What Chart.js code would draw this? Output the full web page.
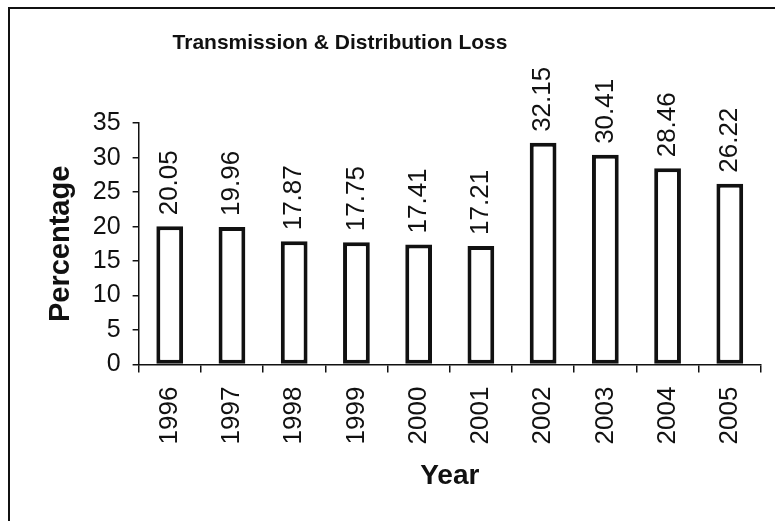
<!DOCTYPE html>
<html>
<head>
<meta charset="utf-8">
<script src="https://cdn.jsdelivr.net/npm/chart.js@4/dist/chart.umd.min.js"></script>
<style>
  html, body { margin: 0; padding: 0; background: #fff; }
  #wrap { position: relative; width: 775px; height: 521px; }
  canvas { display: block; }
</style>
</head>
<body>
<div id="wrap"><canvas id="c" width="775" height="521"></canvas></div>
<script>
const chartTitle = "Transmission & Distribution Loss";
const years = ["1996", "1997", "1998", "1999", "2000", "2001", "2002", "2003", "2004", "2005"];
const lossPercent = [20.05, 19.96, 17.87, 17.75, 17.41, 17.21, 32.15, 30.41, 28.46, 26.22];
const yTicks = [0, 5, 10, 15, 20, 25, 30, 35];
const xAxisTitle = "Year";
const yAxisTitle = "Percentage";

const FONT = "'Liberation Sans', Arial, Helvetica, sans-serif";

const framePlugin = {
  id: 'frame',
  beforeDraw(chart) {
    const ctx = chart.ctx;
    ctx.save();
    ctx.fillStyle = '#fff';
    ctx.fillRect(0, 0, chart.width, chart.height);
    ctx.strokeStyle = '#111';
    ctx.lineWidth = 2;
    ctx.beginPath();
    ctx.moveTo(9, chart.height);
    ctx.lineTo(9, 8);
    ctx.lineTo(chart.width, 8);
    ctx.stroke();
    ctx.restore();
  }
};

const titleShiftPlugin = {
  id: 'titleShift',
  afterLayout(chart) {
    const t = chart.titleBlock;
    if (t) { t.left = 0; t.right = 680; }
  }
};

const valueLabelPlugin = {
  id: 'valueLabels',
  afterDatasetsDraw(chart) {
    const ctx = chart.ctx;
    const meta = chart.getDatasetMeta(0);
    ctx.save();
    ctx.fillStyle = '#111';
    ctx.font = '26px ' + FONT;
    ctx.textAlign = 'left';
    ctx.textBaseline = 'middle';
    meta.data.forEach((bar, i) => {
      ctx.save();
      ctx.translate(bar.x, bar.y - 11);
      ctx.rotate(-Math.PI / 2);
      ctx.fillText(lossPercent[i].toFixed(2), 0, 0);
      ctx.restore();
    });
    ctx.restore();
  }
};

new Chart(document.getElementById('c'), {
  type: 'bar',
  data: {
    labels: years,
    datasets: [{
      data: lossPercent,
      backgroundColor: '#ffffff',
      borderColor: '#111111',
      borderWidth: 4,
      borderSkipped: false,
      categoryPercentage: 1.0,
      barPercentage: 0.43
    }]
  },
  options: {
    responsive: false,
    animation: false,
    devicePixelRatio: 1,
    layout: { padding: { left: 44, right: -5, top: 0, bottom: 28 } },
    plugins: {
      legend: { display: false },
      tooltip: { enabled: false },
      title: {
        display: true,
        text: chartTitle,
        color: '#111',
        font: { family: FONT, size: 21, weight: 'bold' },
        padding: { top: 31, bottom: 67 }
      }
    },
    scales: {
      x: {
        grid: { display: true, drawOnChartArea: false, offset: true, color: '#111', tickLength: 8, lineWidth: 1.5 },
        border: { display: true, color: '#111', width: 1.5 },
        ticks: { color: '#111', font: { family: FONT, size: 26 }, minRotation: 90, maxRotation: 90, padding: 14, autoSkip: false },
        title: { display: true, text: xAxisTitle, color: '#111', font: { family: FONT, size: 28, weight: 'bold' }, padding: { top: 1, bottom: 0 } }
      },
      y: {
        min: 0,
        max: 35,
        afterBuildTicks(axis) { axis.ticks = yTicks.map(v => ({ value: v })); },
        grid: { display: true, drawOnChartArea: false, color: '#111', tickLength: 6, lineWidth: 1.5 },
        border: { display: true, color: '#111', width: 1.5 },
        ticks: { color: '#111', font: { family: FONT, size: 25 }, padding: 12, autoSkip: false },
        title: { display: true, text: yAxisTitle, color: '#111', font: { family: FONT, size: 29, weight: 'bold' }, padding: { top: 0, bottom: 2 } }
      }
    }
  },
  plugins: [framePlugin, titleShiftPlugin, valueLabelPlugin]
});
</script>
</body>
</html>
